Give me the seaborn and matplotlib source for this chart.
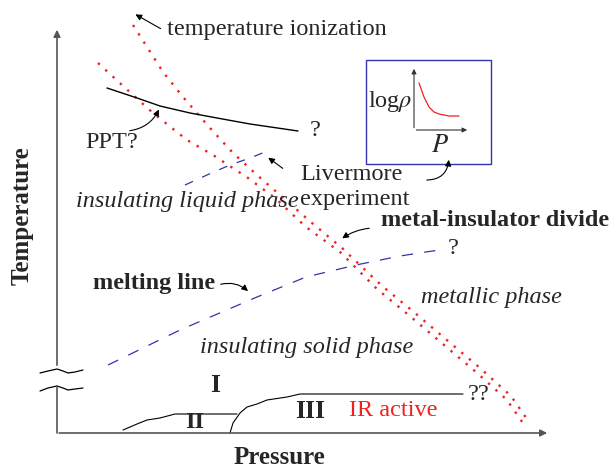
import matplotlib
matplotlib.use("Agg")
import matplotlib.pyplot as plt
import seaborn as sns

# Schematic phase diagram, coordinates in picture units (x right, y down)
ion_x = [133, 163, 183, 210, 233, 257, 280, 312, 342, 381, 415, 448, 480, 511, 529]
ion_y = [25, 72, 97, 128, 153, 175, 195, 223, 248, 285, 313, 341, 368, 396, 422]
mi_x = [98, 122, 153, 187, 213, 248, 275, 306, 340, 377, 411, 444, 476, 507, 525]
mi_y = [63, 85, 113, 140, 155, 178, 198, 227, 252, 289, 317, 345, 372, 400, 426]

ppt_x = [107, 137, 160, 190, 217, 250, 298]
ppt_y = [88, 98, 106, 113, 118, 124, 131]

liv_x = [185, 207, 230, 250, 265]
liv_y = [185, 175, 165, 158, 152]

melt_x = [108, 180, 257, 306, 356, 400, 439]
melt_y = [365, 330, 297, 277, 265, 256, 250]

ph2_x = [123, 130, 137, 147, 160, 175, 237]
ph2_y = [430, 427, 424, 420, 418, 414, 414]
ph3_x = [230, 233, 240, 247, 257, 267, 287, 300, 463]
ph3_y = [433, 423, 413, 407, 404, 400, 397, 394, 394]

rho_x = [419, 424, 429, 434, 439, 449, 459]
rho_y = [83, 97, 107, 112, 114, 116, 116]

brk_x = [40, 48, 57, 63, 68, 75, 83]
brk_top = [373, 371, 369, 371, 373, 372, 370]
brk_bot = [391, 388, 386, 388, 390, 389, 388]

sns.set_theme(style="white")
plt.rcParams["font.family"] = ["Liberation Serif", "DejaVu Serif"]
plt.rcParams["mathtext.fontset"] = "stix"

fig = plt.figure(figsize=(6.12, 4.70), dpi=100)
ax = fig.add_axes([0, 0, 1, 1])
ax.set_xlim(0, 612)
ax.set_ylim(470, 0)
ax.axis("off")

red = "#ee2222"
blue = "#3333aa"
dot = (0, (1, 3.2))

def line(x, y, **kw):
    sns.lineplot(x=x, y=y, sort=False, estimator=None, ax=ax, legend=False, **kw)

line(ion_x, ion_y, color=red, lw=1.7, linestyle=dot)
line(mi_x, mi_y, color=red, lw=1.7, linestyle=dot)
line(ppt_x, ppt_y, color="black", lw=1.0)
line(liv_x, liv_y, color=blue, lw=0.9, linestyle=(0, (7, 8)))
line(melt_x, melt_y, color=blue, lw=0.9, linestyle=(0, (9, 9)))
line(ph2_x, ph2_y, color="black", lw=0.8)
line(ph3_x, ph3_y, color="black", lw=0.8)
line(rho_x, rho_y, color=red, lw=0.9)
line(brk_x, brk_top, color="black", lw=0.9)
line(brk_x, brk_bot, color="black", lw=0.9)

# axes with break
axc = "#555555"
ax.annotate("", xy=(57, 27), xytext=(57, 368),
            arrowprops=dict(arrowstyle="-|>", color=axc, lw=1.2, mutation_scale=10))
ax.plot([57, 57], [386, 433], color=axc, lw=1.2)
ax.annotate("", xy=(550, 433), xytext=(56.4, 433),
            arrowprops=dict(arrowstyle="-|>", color=axc, lw=1.2, mutation_scale=10))

# inset box
ax.add_patch(plt.Rectangle((366, 60), 125, 104, fill=False, ec=blue, lw=1.0))
ax.annotate("", xy=(414, 66), xytext=(414, 130.5),
            arrowprops=dict(arrowstyle="-|>", color="#333333", lw=0.8, mutation_scale=7))
ax.annotate("", xy=(470, 130), xytext=(413.6, 130),
            arrowprops=dict(arrowstyle="-|>", color="#333333", lw=0.8, mutation_scale=7))
ax.text(412, 101, r"log$\rho$", ha="right", va="center", fontsize=17.5)
ax.text(440, 146, "$P$", ha="center", va="center", fontsize=19)

# arrows
arr = dict(arrowstyle="-|>", color="black", lw=0.8, mutation_scale=9)
ax.annotate("", xy=(133, 13), xytext=(163, 30), arrowprops=arr)
ax.annotate("", xy=(160, 107), xytext=(127, 131),
            arrowprops=dict(arr, connectionstyle="arc3,rad=0.3"))
ax.annotate("", xy=(266, 156), xytext=(285, 170), arrowprops=arr)
ax.annotate("", xy=(449, 157), xytext=(424, 180),
            arrowprops=dict(arr, connectionstyle="arc3,rad=0.5"))
ax.annotate("", xy=(340, 240), xytext=(372, 228),
            arrowprops=dict(arr, connectionstyle="arc3,rad=0.15"))
ax.annotate("", xy=(250, 293), xytext=(218, 285),
            arrowprops=dict(arr, connectionstyle="arc3,rad=-0.3"))

# texts
fs = 17.5
ax.text(167, 30, "temperature ionization", ha="left", va="center", fontsize=fs)
ax.text(112, 143, "PPT?", ha="center", va="center", fontsize=fs)
ax.text(315, 130, "?", ha="center", va="center", fontsize=fs)
ax.text(300, 175, "Livermore", ha="left", va="center", fontsize=fs)
ax.text(300, 199, "experiment", ha="left", va="center", fontsize=fs)
ax.text(187, 201, "insulating liquid phase", ha="center", va="center",
        fontsize=fs, style="italic")
ax.text(381, 221, "metal-insulator divide", ha="left", va="center",
        fontsize=fs, weight="bold")
ax.text(453, 249, "?", ha="center", va="center", fontsize=fs)
ax.text(93, 284, "melting line", ha="left", va="center", fontsize=fs, weight="bold")
ax.text(421, 297, "metallic phase", ha="left", va="center", fontsize=fs, style="italic")
ax.text(200, 348, "insulating solid phase", ha="left", va="center",
        fontsize=fs, style="italic")
ax.text(215, 385, "I", ha="center", va="center", fontsize=fs + 1, weight="bold")
ax.text(195, 423, "II", ha="center", va="center", fontsize=fs, weight="bold")
ax.text(310, 412, "III", ha="center", va="center", fontsize=fs + 1, weight="bold")
ax.text(349, 410, "IR active", ha="left", va="center", fontsize=fs, color=red)
ax.text(468, 395, "??", ha="left", va="center", fontsize=fs)
ax.text(22, 216, "Temperature", ha="center", va="center", rotation=90,
        fontsize=18, weight="bold")
ax.text(279, 458, "Pressure", ha="center", va="center", fontsize=18, weight="bold")

fig.savefig("out.png", dpi=100)
